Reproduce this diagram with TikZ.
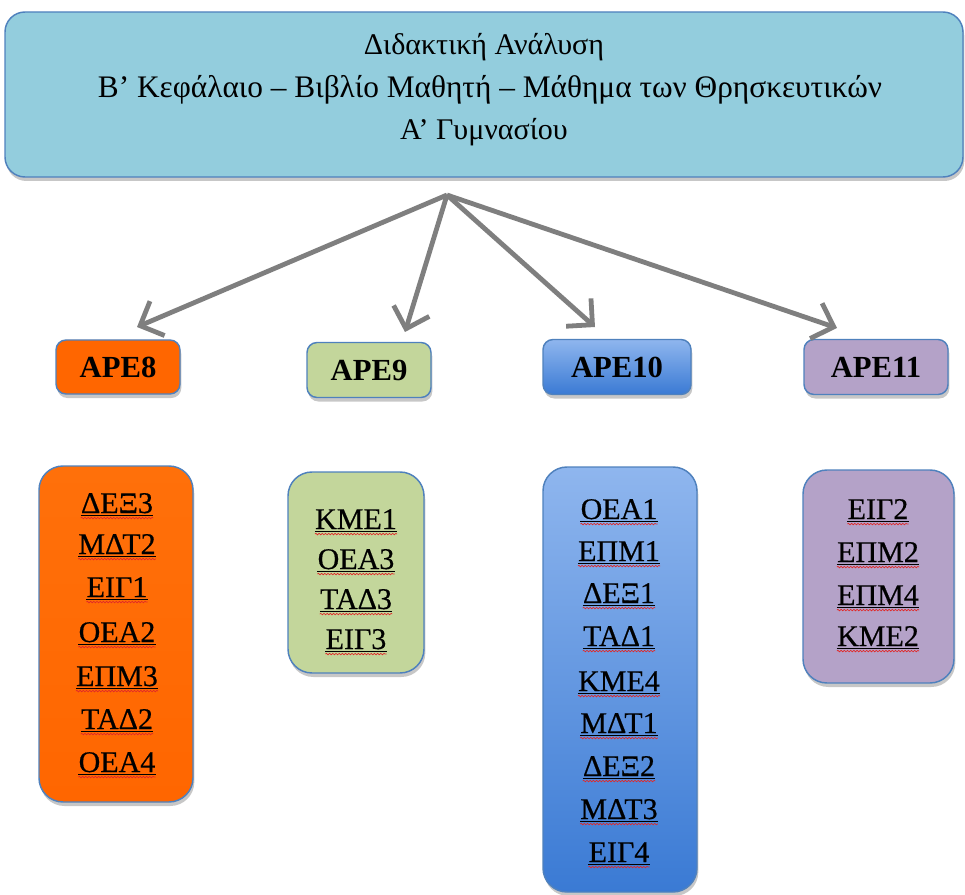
\documentclass[tikz,border=0pt]{standalone}
\usepackage{fontspec}
\setmainfont{Liberation Serif}
\newfontfamily\itemfont[FakeBold=0.5]{Liberation Serif}
\usetikzlibrary{arrows.meta,shadows,decorations.pathmorphing}
\definecolor{topfill}{RGB}{147,205,221}
\definecolor{bord}{RGB}{79,129,189}
\definecolor{orangef}{RGB}{255,102,0}
\definecolor{orangel}{RGB}{255,112,10}
\definecolor{greenf}{RGB}{195,214,155}
\definecolor{bluetop}{RGB}{143,182,238}
\definecolor{bluebot}{RGB}{58,122,212}
\definecolor{purplef}{RGB}{180,162,200}
\definecolor{arrowgray}{RGB}{127,127,127}
\definecolor{wavyred}{RGB}{225,40,40}
\tikzset{
  box/.style={draw=bord, line width=1.1pt, rounded corners=#1,
    drop shadow={shadow xshift=1pt, shadow yshift=-3pt, opacity=0.22, fill=black}},
  toptxt/.style={font=\fontsize{22.5}{22.5}\selectfont},
  apetxt/.style={font=\fontsize{23}{23}\selectfont\bfseries},
  itemtxt/.style={font=\fontsize{22.5}{22.5}\selectfont\itemfont, inner sep=0pt, anchor=base},
  arr/.style={draw=arrowgray, line width=3.6pt, -{Straight Barb[length=14pt,width=28pt,line width=3.6pt]}},
  uline/.style={line width=0.7pt},
  wavy/.style={draw=wavyred, line width=0.5pt, decorate, decoration={snake, amplitude=0.55pt, segment length=2.4pt}},
}
\newcommand{\codeitem}[4]{%
  \node[itemtxt] (#1) at (#2,#3) {#4};
  \draw[uline] ([yshift=-2.2pt]#1.base west) -- ([yshift=-2.2pt]#1.base east);
  \draw[wavy] ([yshift=-3.8pt]#1.base west) -- ([yshift=-3.8pt]#1.base east);
}
\begin{document}
\begin{tikzpicture}[x=0.75pt,y=-0.75pt]
\useasboundingbox (0,0) rectangle (965,895);

% top box
\node[box=15pt, fill=topfill, minimum width=718.5pt, minimum height=123.75pt] (top) at (484,94.5) {};
\node[toptxt] (t1) at (484,47) {Διδακτική Ανάλυση};
\node[toptxt, font=\fontsize{23.5}{23.5}\selectfont] (t2) at (490,90) {Β’ Κεφάλαιο – Βιβλίο Μαθητή – Μάθημα των Θρησκευτικών};
\node[toptxt] (t3) at (484,132) {Α’ Γυμνασίου};

% APE boxes
\node[box=7.5pt, fill=orangef, minimum width=93pt, minimum height=40.5pt, apetxt] (ape8) at (118,367) {APE8};
\node[box=7.5pt, fill=greenf, minimum width=93pt, minimum height=41.25pt, apetxt] (ape9) at (369,370) {APE9};
\node[box=7.5pt, top color=bluetop, bottom color=bluebot, draw=bord, minimum width=111pt, minimum height=41.25pt, apetxt] (ape10) at (617,367) {APE10};
\node[box=7.5pt, fill=purplef, minimum width=108pt, minimum height=41.25pt, apetxt] (ape11) at (876,367) {APE11};

% arrows
\coordinate (o) at (447,195);
\coordinate (a8) at (137,327);
\coordinate (a9) at (405,332);
\coordinate (a10) at (595,327);
\coordinate (a11) at (837,328);
\draw[arr] (o) -- (a8);
\draw[arr] (o) -- (a9);
\draw[arr] (o) -- (a10);
\draw[arr] (o) -- (a11);

% list boxes
\node[box=18pt, top color=orangel, bottom color=orangef, minimum width=115.5pt, minimum height=252pt] (l8) at (116,634) {};
\node[box=18pt, fill=greenf, minimum width=102pt, minimum height=150.75pt] (l9) at (356,572.5) {};
\node[box=18pt, top color=bluetop, bottom color=bluebot, minimum width=115.5pt, minimum height=318.75pt] (l10) at (620,679.5) {};
\node[box=18pt, fill=purplef, minimum width=113.25pt, minimum height=159.75pt] (l11) at (878.5,576.5) {};

% list items
\codeitem{p1}{117}{513}{ΔΕΞ3}
\codeitem{p2}{117}{554}{ΜΔΤ2}
\codeitem{p3}{117}{597}{ΕΙΓ1}
\codeitem{p4}{117}{642}{ΟΕΑ2}
\codeitem{p5}{117}{686}{ΕΠΜ3}
\codeitem{p6}{117}{729}{ΤΑΔ2}
\codeitem{p7}{117}{772}{ΟΕΑ4}

\codeitem{q1}{356}{529}{ΚΜΕ1}
\codeitem{q2}{356}{569}{ΟΕΑ3}
\codeitem{q3}{356}{609}{ΤΑΔ3}
\codeitem{q4}{356}{649}{ΕΙΓ3}

\codeitem{r1}{619}{519}{ΟΕΑ1}
\codeitem{r2}{619}{561}{ΕΠΜ1}
\codeitem{r3}{619}{603}{ΔΕΞ1}
\codeitem{r4}{619}{646}{ΤΑΔ1}
\codeitem{r5}{619}{691}{ΚΜΕ4}
\codeitem{r6}{619}{733}{ΜΔΤ1}
\codeitem{r7}{619}{776}{ΔΕΞ2}
\codeitem{r8}{619}{819}{ΜΔΤ3}
\codeitem{r9}{619}{862}{ΕΙΓ4}

\codeitem{s1}{878}{519}{ΕΙΓ2}
\codeitem{s2}{878}{562}{ΕΠΜ2}
\codeitem{s3}{878}{605}{ΕΠΜ4}
\codeitem{s4}{878}{646}{ΚΜΕ2}
\end{tikzpicture}
\end{document}
